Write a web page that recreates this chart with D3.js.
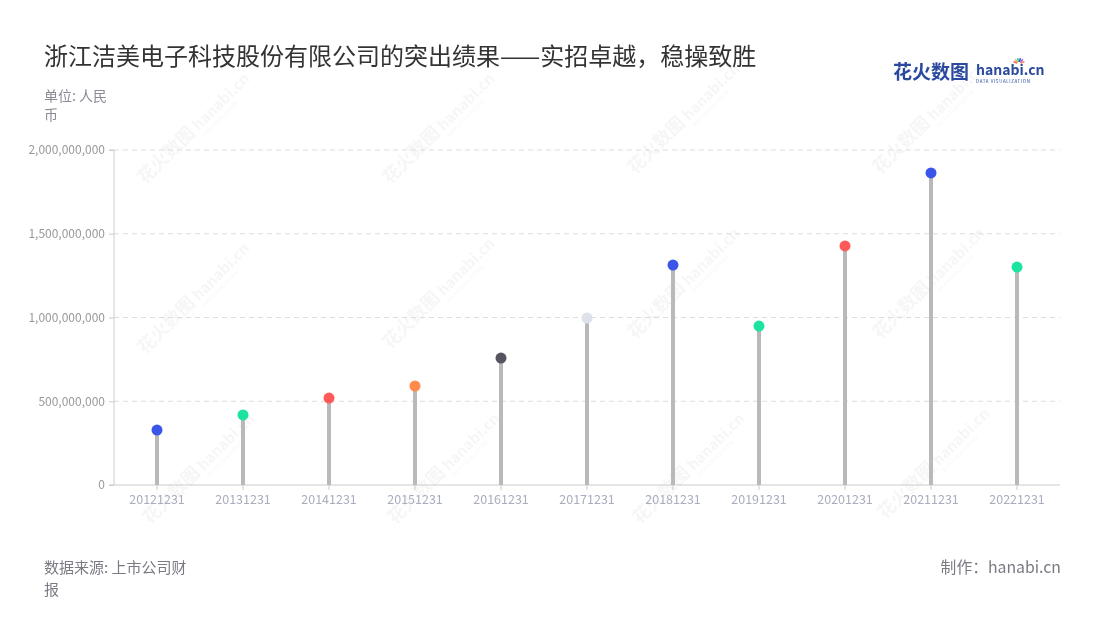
<!DOCTYPE html>
<html><head><meta charset="utf-8">
<script src="https://cdn.jsdelivr.net/npm/d3@7"></script>
<style>body{margin:0;background:#fff;font-family:"Noto Sans CJK SC","Noto Sans",sans-serif;}</style>
</head><body><svg id="c" width="1100" height="620"></svg>
<script>
const categories = ["20121231","20131231","20141231","20151231","20161231","20171231","20181231","20191231","20201231","20211231","20221231"];
const values = [328000000,418000000,519000000,591000000,758000000,997000000,1313000000,949000000,1427000000,1863000000,1301000000];
const dotColors = ["#3a56e8","#1de3a0","#ff5a57","#ff8a4c","#55555f","#dde1ea","#3a56e8","#1de3a0","#ff5a57","#3a56e8","#1de3a0"];
const yTicks = [0,500000000,1000000000,1500000000,2000000000];
const title = "浙江洁美电子科技股份有限公司的突出绩果——实招卓越，稳操致胜";

const svg = d3.select("#c");
const font = '"Noto Sans CJK SC","Noto Sans",sans-serif';
const L=114, R=1060, T=150, B=485;

// watermarks
const wm = svg.append("g").attr("opacity",0.045);
[[145,185],[390,185],[635,175],[880,175],[145,355],[390,350],[635,340],[880,340],[150,525],[395,525],[640,525],[885,520]].forEach(([x,y])=>{
  const g = wm.append("g").attr("transform",`translate(${x},${y}) rotate(-45)`);
  g.append("text").attr("x",0).attr("y",0).attr("font-size",18).attr("font-weight",700).attr("fill","#333").attr("font-family",font).text("花火数图");
  g.append("text").attr("x",76).attr("y",0).attr("font-size",15).attr("font-weight",700).attr("fill","#333").attr("font-family",font).text("hanabi.cn");
  g.append("text").attr("x",76).attr("y",8).attr("font-size",5).attr("fill","#333").attr("font-family",font).text("DATA VISUALIZATION");
});

svg.append("text").attr("x",44).attr("y",65).attr("font-size",24).attr("fill","#333").attr("font-family",font).text(title);

// logo
svg.append("text").attr("x",893).attr("y",79).attr("font-size",19).attr("font-weight",700).attr("fill","#2b4a9f").attr("font-family",font).text("花火数图");
svg.append("text").attr("x",976).attr("y",75).attr("font-size",14).attr("font-weight",700).attr("fill","#2b4a9f").attr("font-family",font).text("hanabi.cn");
svg.append("text").attr("x",976).attr("y",83).attr("font-size",4.5).attr("fill","#2b4a9f").attr("font-family",font).attr("letter-spacing",0.6).text("DATA VISUALIZATION");
const spk = svg.append("g").attr("transform","translate(1019,64)");
["#ff5a57","#ffb23e","#1de3a0","#3a56e8","#b05be8","#ff8a4c"].forEach((c,i)=>{
  const a = -Math.PI/2 + (i-2.5)*0.45;
  spk.append("line").attr("x1",Math.cos(a)*2).attr("y1",Math.sin(a)*2).attr("x2",Math.cos(a)*6).attr("y2",Math.sin(a)*6).attr("stroke",c).attr("stroke-width",1.6);
});

svg.append("text").attr("x",44).attr("y",101).attr("font-size",14).attr("fill","#8a8a96").attr("font-family",font).text("单位: 人民");
svg.append("text").attr("x",44).attr("y",120).attr("font-size",14).attr("fill","#8a8a96").attr("font-family",font).text("币");

const x = d3.scaleBand().domain(categories).range([L,R]);
const y = d3.scaleLinear().domain([0,2000000000]).range([B,T]);

// grid
svg.append("g").selectAll("line").data(yTicks.filter(d=>d>0)).join("line")
  .attr("x1",L).attr("x2",R).attr("y1",d=>y(d)).attr("y2",d=>y(d))
  .attr("stroke","#dcdcdc").attr("stroke-dasharray","5,4");

const yAxis = svg.append("g").attr("transform",`translate(${L},0)`)
  .call(d3.axisLeft(y).tickValues(yTicks).tickSize(5).tickPadding(4).tickFormat(d3.format(",")));
yAxis.select(".domain").attr("stroke","#ccc").attr("d",`M-5,${T}H0V${B}H-5`);
yAxis.selectAll(".tick line").attr("stroke","#ccc");
yAxis.selectAll("text").attr("fill","#999").attr("font-size",12).attr("font-family",font);

const xAxis = svg.append("g").attr("transform",`translate(0,${B})`)
  .call(d3.axisBottom(x).tickSize(5).tickPadding(5));
xAxis.select(".domain").attr("stroke","#ccc").attr("d",`M${L},0H${R}`);
xAxis.selectAll(".tick line").attr("stroke","#ccc");
xAxis.selectAll("text").attr("fill","#a9adbd").attr("font-size",12.5).attr("font-family",font);

const cx = d=>x(d)+x.bandwidth()/2;
svg.append("g").selectAll("line").data(categories).join("line")
  .attr("x1",cx).attr("x2",cx).attr("y1",B).attr("y2",(d,i)=>y(values[i]))
  .attr("stroke","#b9b9b9").attr("stroke-width",4);
svg.append("g").selectAll("circle").data(categories).join("circle")
  .attr("cx",cx).attr("cy",(d,i)=>y(values[i])).attr("r",5.5)
  .attr("fill",(d,i)=>dotColors[i]);

svg.append("text").attr("x",44).attr("y",573).attr("font-size",15).attr("fill","#7a7a84").attr("font-family",font).text("数据来源: 上市公司财");
svg.append("text").attr("x",44).attr("y",595).attr("font-size",15).attr("fill","#7a7a84").attr("font-family",font).text("报");
svg.append("text").attr("x",1061).attr("y",573).attr("text-anchor","end").attr("font-size",15.8).attr("fill","#7a7a84").attr("font-family",font).text("制作：hanabi.cn");
</script></body></html>
